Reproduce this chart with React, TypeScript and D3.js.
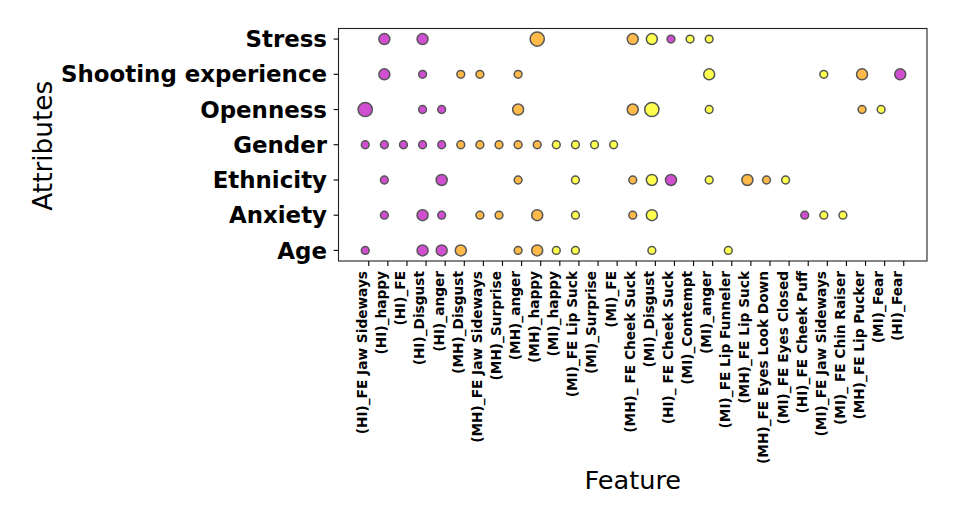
import React from "react";
import * as d3 from "d3";

const features: string[] = [
  "(HI)_FE Jaw Sideways",
  "(HI)_happy",
  "(HI)_FE",
  "(HI)_Disgust",
  "(HI)_anger",
  "(MH)_Disgust",
  "(MH)_FE Jaw Sideways",
  "(MH)_Surprise",
  "(MH)_anger",
  "(MH)_happy",
  "(MI)_happy",
  "(MI)_FE Lip Suck",
  "(MI)_Surprise",
  "(MI)_FE",
  "(MH)_ FE Cheek Suck",
  "(MI)_Disgust",
  "(HI)_ FE Cheek Suck",
  "(MI)_Contempt",
  "(MI)_anger",
  "(MI)_FE Lip Funneler",
  "(MH)_FE Lip Suck",
  "(MH)_FE Eyes Look Down",
  "(MI)_FE Eyes Closed",
  "(HI)_FE Cheek Puff",
  "(MI)_FE Jaw Sideways",
  "(MI)_ FE Chin Raiser",
  "(MH)_FE Lip Pucker",
  "(MI)_Fear",
  "(HI)_Fear",
];

// bottom to top
const attributes: string[] = [
  "Age",
  "Anxiety",
  "Ethnicity",
  "Gender",
  "Openness",
  "Shooting experience",
  "Stress",
];

// size level per feature (0 = no marker), index aligned with `features`
const ageSizes =        [1,0,0,2,2,2,0,0,1,2,1,1,0,0,0,1,0,0,0,1,0,0,0,0,0,0,0,0,0];
const anxietySizes =    [0,1,0,2,1,0,1,1,0,2,0,1,0,0,1,2,0,0,0,0,0,0,0,1,1,1,0,0,0];
const ethnicitySizes =  [0,1,0,0,2,0,0,0,1,0,0,1,0,0,1,2,2,0,1,0,2,1,1,0,0,0,0,0,0];
const genderSizes =     [1,1,1,1,1,1,1,1,1,1,1,1,1,1,0,0,0,0,0,0,0,0,0,0,0,0,0,0,0];
const opennessSizes =   [3,0,0,1,1,0,0,0,2,0,0,0,0,0,2,3,0,0,1,0,0,0,0,0,0,0,1,1,0];
const shootingSizes =   [0,2,0,1,0,1,1,0,1,0,0,0,0,0,0,0,0,0,2,0,0,0,0,0,1,0,2,0,2];
const stressSizes =     [0,2,0,2,0,0,0,0,0,3,0,0,0,0,2,2,1,1,1,0,0,0,0,0,0,0,0,0,0];

const sizeRows: number[][] = [
  ageSizes,
  anxietySizes,
  ethnicitySizes,
  genderSizes,
  opennessSizes,
  shootingSizes,
  stressSizes,
];

const groups = ["(HI)", "(MH)", "(MI)"];
const groupColors = ["#d04fd0", "#ffba4a", "#ffff4d"];

const W = 957;
const H = 524;
const left = 338.5;
const right = 927;
const top = 28.5;
const bottom = 261;

export default function App() {
  const nx = features.length - 1;
  const ny = attributes.length - 1;
  const x = d3
    .scaleLinear()
    .domain([-0.05 * nx, nx + 0.05 * nx])
    .range([left, right]);
  const y = d3
    .scaleLinear()
    .domain([-0.05 * ny, ny + 0.05 * ny])
    .range([bottom, top]);
  const r = d3.scaleLinear().domain([1, 3]).range([3.9, 7.1]);
  const color = d3.scaleOrdinal<string, string>().domain(groups).range(groupColors);

  const points: { xi: number; yi: number; s: number; g: string }[] = [];
  sizeRows.forEach((row, yi) => {
    row.forEach((s, xi) => {
      if (s > 0) points.push({ xi, yi, s, g: features[xi].slice(0, 4) });
    });
  });

  const tickOffset = 3.5;
  const font = "DejaVu Sans, sans-serif";

  return (
    <svg
      width={W}
      height={H}
      style={{ position: "absolute", left: 0, top: 0, background: "#fff" }}
      fontFamily={font}
    >
      <rect x={0} y={0} width={W} height={H} fill="#fff" />
      {points.map((p, i) => (
        <circle
          key={i}
          cx={x(p.xi)}
          cy={y(p.yi)}
          r={r(p.s)}
          fill={color(p.g)}
          stroke="#555"
          strokeWidth={1.5}
        />
      ))}
      <rect
        x={left}
        y={top}
        width={right - left}
        height={bottom - top}
        fill="none"
        stroke="#222"
        strokeWidth={1.1}
      />
      {features.map((f, i) => {
        const tx = x(i) + tickOffset;
        return (
          <g key={f}>
            <line x1={tx} x2={tx} y1={bottom} y2={bottom + 4.9} stroke="#000" strokeWidth={1.1} />
            <text
              transform={`translate(${tx - 1.6},${bottom + 10}) rotate(-90)`}
              textAnchor="end"
              fontSize={13.7}
              fontWeight="bold"
              fill="#000"
            >
              {f}
            </text>
          </g>
        );
      })}
      {attributes.map((a, i) => (
        <g key={a}>
          <line x1={left - 4.9} x2={left} y1={y(i)} y2={y(i)} stroke="#000" strokeWidth={1.1} />
          <text
            x={left - 11.5}
            y={y(i) + 8.2}
            textAnchor="end"
            fontSize={22.9}
            fontWeight="bold"
            fill="#000"
          >
            {a}
          </text>
        </g>
      ))}
      <text x={(left + right) / 2} y={488.5} textAnchor="middle" fontSize={25.6} fill="#000">
        Feature
      </text>
      <text
        transform={`translate(51.5,${(top + bottom) / 2 + 1}) rotate(-90)`}
        textAnchor="middle"
        fontSize={26.3}
        fill="#000"
      >
        Attributes
      </text>
    </svg>
  );
}
